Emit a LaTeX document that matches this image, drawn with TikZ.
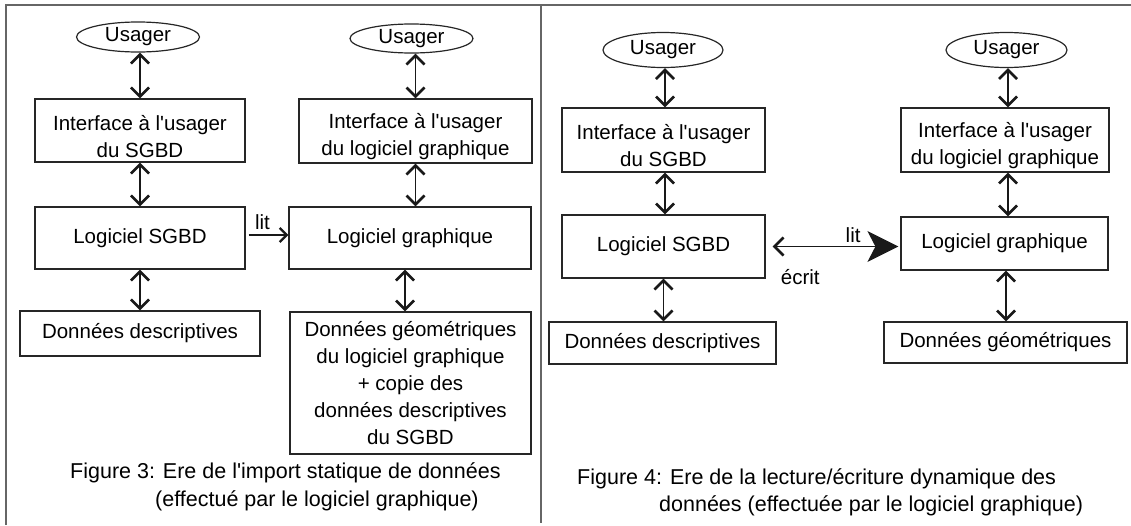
\documentclass[tikz,border=0pt]{standalone}
\usepackage{fontspec}
\setmainfont{Liberation Sans}
\usetikzlibrary{arrows.meta,shapes.geometric,calc}
\newcommand\myq{\textquotesingle}
\newcommand\uprule{\rule{0pt}{27pt}}
\begin{document}
\begin{tikzpicture}[x=1pt,y=-1pt,
  font=\fontsize{20.5}{27}\selectfont,
  box/.style={draw=black!85, line width=1.2pt, rectangle, align=center, inner sep=0pt},
  user/.style={draw=black!85, line width=1.2pt, ellipse, inner sep=0pt},
  dbl/.style={draw=black!90, line width=1.2pt,
    {Straight Barb[length=9pt,width=18pt,line width=2.7pt]}-{Straight Barb[length=9pt,width=18pt,line width=2.7pt]}},
  litarrow/.style={draw=black!90, line width=1.2pt, -{Straight Barb[length=7pt,width=14pt,line width=2.4pt]}},
  rw/.style={draw=black!90, line width=1.2pt,
    {Straight Barb[length=9pt,width=18pt,line width=2.7pt]}-{Stealth[length=31pt,width=31pt,inset=8pt]}},
  frame/.style={draw=black!60, line width=2pt},
  lbl/.style={anchor=base, inner sep=0pt},
  caption/.style={anchor=base west, inner sep=0pt, font=\fontsize{21.5}{27}\selectfont}
]
\useasboundingbox (0,0) rectangle (1131,525);
% frame
\draw[frame] (6,525) -- (6,5) -- (1131,5);
\draw[frame] (541,5) -- (541,523);

% ---------- left panel ----------
\node[user, minimum width=123pt, minimum height=30pt] (u1) at (138,37) {Usager};
\node[box, minimum width=210pt, minimum height=63pt] (i1) at (140,130.5) {\uprule Interface à l\myq usager\\du SGBD};
\node[box, minimum width=210pt, minimum height=62pt] (l1) at (140,238) {Logiciel SGBD};
\node[box, minimum width=240pt, minimum height=45pt] (d1) at (140,333.5) {Données descriptives};

\node[user, minimum width=123pt, minimum height=29pt] (u2) at (411.5,38.5) {Usager};
\node[box, minimum width=233pt, minimum height=64pt] (i2) at (415.5,131) {\uprule Interface à l\myq usager\\du logiciel graphique};
\node[box, minimum width=242pt, minimum height=62pt] (g2) at (410,238) {Logiciel graphique};
\node[box, minimum width=241pt, minimum height=142pt] (d2) at (410.5,383) {Données géométriques\\du logiciel graphique\\+ copie des\\données descriptives\\du SGBD};

\draw[dbl] (i1.north |- u1.south) -- (i1.north);
\draw[dbl] (i1.south) -- (l1.north);
\draw[dbl] (l1.south) -- (d1.north);
\draw[dbl] (i2.north |- u2.south) -- (i2.north);
\draw[dbl] (i2.south) -- (i2.south |- g2.north);
\draw[dbl] ([xshift=-5pt]g2.south) -- ([xshift=-5pt]g2.south |- d2.north);
\draw[litarrow] ([xshift=3pt,yshift=3pt]l1.east) -- node[lbl, pos=0.35, yshift=5.7pt] (lit1) {lit} ([yshift=3pt]l1.east -| g2.west);

\node[caption] (c1a) at (70,478) {Figure 3: Ere de l\myq import statique de données};
\node[caption] (c1b) at (155,506) {(effectué par le logiciel graphique)};

% ---------- right panel ----------
\node[user, minimum width=120pt, minimum height=35pt] (u3) at (663,50) {Usager};
\node[box, minimum width=203pt, minimum height=64pt] (i3) at (663.5,140) {\uprule Interface à l\myq usager\\du SGBD};
\node[box, minimum width=203pt, minimum height=63pt] (l3) at (663.5,246.5) {Logiciel SGBD};
\node[box, minimum width=227pt, minimum height=42pt] (d3) at (662.5,343) {Données descriptives};

\node[user, minimum width=121pt, minimum height=35pt] (u4) at (1006.5,50) {Usager};
\node[box, minimum width=208pt, minimum height=64pt] (i4) at (1005,140) {\uprule Interface à l\myq usager\\du logiciel graphique};
\node[box, minimum width=207pt, minimum height=53pt] (g4) at (1004.5,243.5) {Logiciel graphique};
\node[box, minimum width=243pt, minimum height=41pt] (d4) at (1005.5,342.5) {Données géométriques};

\draw[dbl] ([xshift=1.5pt]i3.north |- u3.south) -- ([xshift=1.5pt]i3.north);
\draw[dbl] ([xshift=1.5pt]i3.south) -- ([xshift=1.5pt]i3.south |- l3.north);
\draw[dbl] (l3.south) -- (l3.south |- d3.north);
\draw[dbl] ([xshift=3pt]i4.north |- u4.south) -- ([xshift=3pt]i4.north);
\draw[dbl] ([xshift=3pt]i4.south) -- ([xshift=3pt]i4.south |- g4.north);
\draw[dbl] ([xshift=1.5pt]g4.south) -- ([xshift=1.5pt]g4.south |- d4.north);
\draw[rw] ([xshift=7pt]l3.east) -- node[lbl, pos=0.64, yshift=3.7pt] (lit2) {lit}
  node[lbl, pos=0.22, yshift=-38pt] (ecrit) {écrit} ([xshift=-2pt]l3.east -| g4.west);

\node[caption] (c2a) at (577,484) {Figure 4: Ere de la lecture/écriture dynamique des};
\node[caption] (c2b) at (659,511) {données (effectuée par le logiciel graphique)};
\end{tikzpicture}
\end{document}
